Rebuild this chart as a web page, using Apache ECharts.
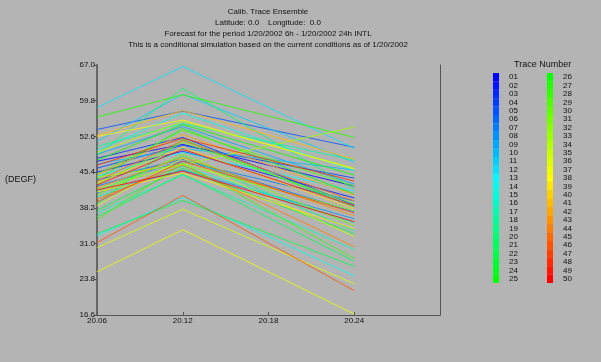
<!DOCTYPE html>
<html>
<head>
<meta charset="utf-8">
<script src="https://cdn.jsdelivr.net/npm/echarts@6/dist/echarts.min.js"></script>
<style>
  html, body { margin: 0; padding: 0; background: #b4b4b4; }
  #chart { width: 601px; height: 362px; }
</style>
</head>
<body>
<div id="chart"></div>
<script>
// forecast times (day.hour) where each trace has a value
const xValues = [20.06, 20.12, 20.24];
const xTicks = [20.06, 20.12, 20.18, 20.24];
const yTicks = [16.6, 23.8, 31.0, 38.2, 45.4, 52.6, 59.8, 67.0];

const traceNames = [
  "01", "02", "03", "04", "05", "06", "07", "08", "09", "10",
  "11", "12", "13", "14", "15", "16", "17", "18", "19", "20",
  "21", "22", "23", "24", "25", "26", "27", "28", "29", "30",
  "31", "32", "33", "34", "35", "36", "37", "38", "39", "40",
  "41", "42", "43", "44", "45", "46", "47", "48", "49", "50",
];

// value of each trace at 20.06, 20.12 and 20.24
const startTemps = [
  47.6, 45.4, 48.2, 46.2, 54.0, 43.8, 42.6, 41.2, 49.0, 47.0,
  51.6, 58.4, 44.6, 32.6, 49.8, 40.4, 37.2, 50.6, 41.6, 48.8,
  36.4, 33.0, 37.7, 39.0, 44.0, 47.8, 56.5, 35.8, 45.0, 43.0,
  40.8, 42.0, 44.4, 49.4, 38.6, 30.2, 25.3, 52.6, 41.4, 43.2,
  52.8, 44.8, 42.2, 40.0, 43.6, 31.2, 39.4, 46.8, 42.8, 41.8,
];
const peakTemps = [
  51.0, 49.6, 52.4, 50.8, 57.7, 48.0, 47.6, 45.8, 54.6, 50.2,
  61.1, 66.7, 49.4, 40.3, 57.3, 46.6, 44.8, 55.2, 48.6, 62.3,
  45.0, 39.7, 46.2, 52.0, 54.2, 55.0, 61.0, 47.2, 53.8, 51.4,
  49.0, 47.0, 46.9, 55.6, 48.2, 37.9, 33.8, 55.9, 45.2, 50.4,
  57.8, 53.0, 48.4, 46.8, 51.8, 40.7, 47.6, 52.2, 50.0, 45.6,
];
const endTemps = [
  42.6, 40.2, 38.8, 44.2, 50.4, 37.4, 39.6, 36.0, 43.0, 45.8,
  47.4, 50.2, 41.6, 24.5, 45.7, 35.2, 29.8, 47.8, 33.6, 42.0,
  27.4, 26.4, 33.0, 38.4, 41.0, 44.8, 52.4, 28.0, 42.6, 39.0,
  34.6, 37.6, 54.5, 46.2, 32.4, 22.9, 16.8, 46.0, 34.0, 38.0,
  48.0, 40.8, 36.6, 30.4, 39.6, 21.5, 37.2, 43.6, 38.6, 35.4,
];

const titleLines = [
  "Calib. Trace Ensemble",
  "Latitude: 0.0    Longitude:  0.0",
  "Forecast for the period 1/20/2002 6h - 1/20/2002 24h INTL",
  "This is a conditional simulation based on the current conditions as of 1/20/2002",
];

const font = "Liberation Sans";

// blue -> cyan -> green -> yellow -> red, like the trace number scale
function traceColor(i, n) {
  const h = (240 * (n - 1 - i)) / (n - 1) / 60;
  const x = 1 - Math.abs((h % 2) - 1);
  let rgb;
  if (h < 1) rgb = [1, x, 0];
  else if (h < 2) rgb = [x, 1, 0];
  else if (h < 3) rgb = [0, 1, x];
  else if (h < 4) rgb = [0, x, 1];
  else rgb = [x, 0, 1];
  return "rgb(" + rgb.map((c) => Math.round(c * 255)).join(",") + ")";
}

const series = traceNames.map((name, i) => ({
  name: name,
  type: "line",
  data: [
    [xValues[0], startTemps[i]],
    [xValues[1], peakTemps[i]],
    [xValues[2], endTemps[i]],
  ],
  symbol: "none",
  color: traceColor(i, traceNames.length),
  lineStyle: { width: 1, opacity: 0.8 },
  emphasis: { disabled: true },
}));

const legendBase = {
  orient: "vertical",
  icon: "rect",
  itemWidth: 6,
  itemHeight: 8.4,
  itemGap: 0,
  padding: 0,
  selectedMode: false,
  itemStyle: { borderWidth: 0 },
  textStyle: {
    fontFamily: font,
    fontSize: 8,
    lineHeight: 8.4,
    color: "#111",
    padding: [0, 0, 0, 5],
  },
};

const titleText = { fontWeight: "normal", color: "#111", fontFamily: font };

const chart = echarts.init(document.getElementById("chart"));
chart.setOption({
  backgroundColor: "#b4b4b4",
  animation: false,
  textStyle: { fontFamily: font },
  title: [
    {
      text: titleLines.join("\n"),
      left: 268,
      top: 6,
      padding: 0,
      textAlign: "center",
      textStyle: Object.assign({ fontSize: 8, lineHeight: 11 }, titleText),
    },
    {
      text: "Trace Number",
      left: 514,
      top: 60,
      padding: 0,
      textStyle: Object.assign({ fontSize: 9 }, titleText),
    },
    {
      text: "(DEGF)",
      left: 5,
      top: 175,
      padding: 0,
      textStyle: Object.assign({ fontSize: 9 }, titleText),
    },
  ],
  legend: [
    Object.assign({}, legendBase, { left: 493, top: 73, data: traceNames.slice(0, 25) }),
    Object.assign({}, legendBase, { left: 547, top: 73, data: traceNames.slice(25) }),
  ],
  grid: { left: 97, right: 161, top: 65, bottom: 47 },
  xAxis: {
    type: "value",
    min: 20.06,
    max: 20.3,
    splitLine: { show: false },
    axisLine: { lineStyle: { color: "#555", width: 1 } },
    axisTick: { inside: true, length: 3, customValues: xTicks, lineStyle: { color: "#555" } },
    axisLabel: {
      customValues: xTicks,
      margin: 2,
      fontSize: 8,
      color: "#111",
      formatter: (v) => v.toFixed(2),
    },
  },
  yAxis: [
    {
      type: "value",
      min: 16.6,
      max: 67.0,
      splitLine: { show: false },
      axisLine: { show: true, lineStyle: { color: "#666", width: 2 } },
      axisTick: { length: 3, customValues: yTicks, lineStyle: { color: "#555" } },
      axisLabel: {
        customValues: yTicks,
        margin: 2,
        fontSize: 8,
        color: "#111",
        formatter: (v) => v.toFixed(1),
      },
    },
    {
      type: "value",
      position: "right",
      min: 16.6,
      max: 67.0,
      splitLine: { show: false },
      axisLine: { show: true, lineStyle: { color: "#555", width: 1 } },
      axisTick: { show: false },
      axisLabel: { show: false },
    },
  ],
  series: series,
});
</script>
</body>
</html>
